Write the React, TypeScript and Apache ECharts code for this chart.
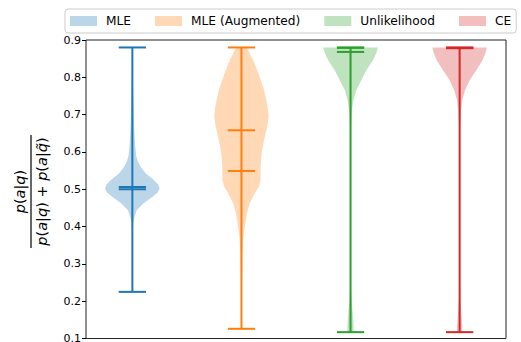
import React, { useEffect, useRef } from "react";
import * as echarts from "echarts";

const NAMES = ["MLE", "MLE (Augmented)", "Unlikelihood", "CE"];
const POSITIONS = [1, 2, 3, 4];
const LINE_COLORS = ["#1f77b4", "#ff7f0e", "#2ca02c", "#d62728"];
const FILL_COLORS = [
  "rgba(31,119,180,0.3)",
  "rgba(255,127,14,0.3)",
  "rgba(44,160,44,0.3)",
  "rgba(214,39,40,0.3)",
];
const Y_TICKS = [0.1, 0.2, 0.3, 0.4, 0.5, 0.6, 0.7, 0.8, 0.9];

// [value, relative density (max = 1)]
const PROFILE_MLE: number[][] = [
  [0.225, 0], [0.3, 0.006], [0.38, 0.012], [0.41, 0.03], [0.426, 0.08],
  [0.444, 0.16], [0.462, 0.4], [0.479, 0.73], [0.491, 0.93], [0.502, 1.0],
  [0.513, 0.95], [0.524, 0.8], [0.533, 0.65], [0.542, 0.49], [0.56, 0.3],
  [0.575, 0.2], [0.59, 0.14], [0.62, 0.1], [0.66, 0.07], [0.75, 0.035],
  [0.82, 0.015], [0.88, 0.004],
];
const PROFILE_AUG: number[][] = [
  [0.126, 0.005], [0.25, 0.015], [0.318, 0.035], [0.363, 0.06], [0.399, 0.12],
  [0.435, 0.2], [0.462, 0.3], [0.488, 0.48], [0.506, 0.63], [0.524, 0.7],
  [0.56, 0.7], [0.596, 0.74], [0.632, 0.83], [0.667, 0.94], [0.694, 1.0],
  [0.721, 0.96], [0.766, 0.83], [0.811, 0.62], [0.846, 0.43], [0.88, 0.19],
];
const PROFILE_UL: number[][] = [
  [0.117, 0.12], [0.14, 0.11], [0.17, 0.08], [0.2, 0.04], [0.24, 0.015],
  [0.3, 0.008], [0.45, 0.006], [0.6, 0.01], [0.68, 0.025], [0.712, 0.05],
  [0.739, 0.11], [0.766, 0.21], [0.793, 0.4], [0.819, 0.58], [0.846, 0.82],
  [0.866, 0.95], [0.88, 1.0],
];
const PROFILE_CE: number[][] = [
  [0.117, 0.1], [0.14, 0.09], [0.17, 0.06], [0.2, 0.03], [0.24, 0.012],
  [0.3, 0.006], [0.5, 0.005], [0.65, 0.012], [0.712, 0.05], [0.739, 0.1],
  [0.766, 0.2], [0.793, 0.37], [0.819, 0.61], [0.846, 0.84], [0.866, 0.95],
  [0.88, 1.0],
];
const PROFILES = [PROFILE_MLE, PROFILE_AUG, PROFILE_UL, PROFILE_CE];

const MINS = [0.225, 0.126, 0.117, 0.117];
const MAXS = [0.88, 0.88, 0.88, 0.88];
const MEANS = [0.506, 0.549, 0.868, 0.878];
const MEDIANS = [0.5, 0.658, 0.879, 0.879];

const HALF_WIDTH = 0.25;
const CAP_HALF = 0.125;
const FONT = "DejaVu Sans";

export default function App() {
  const ref = useRef<HTMLDivElement>(null);

  useEffect(() => {
    if (!ref.current) return;
    const chart = echarts.init(ref.current, undefined, { renderer: "svg" });

    const series = NAMES.map((name, k) => ({
      type: "custom",
      name,
      itemStyle: { color: FILL_COLORS[k] },
      data: [[POSITIONS[k], MEDIANS[k]]],
      renderItem: (params: any, api: any) => {
        const pos = POSITIONS[k];
        const prof = PROFILES[k];
        const right = prof.map(([y, w]) => api.coord([pos + w * HALF_WIDTH, y]));
        const left = prof
          .slice()
          .reverse()
          .map(([y, w]) => api.coord([pos - w * HALF_WIDTH, y]));
        const color = LINE_COLORS[k];
        const seg = (x1: number, y1: number, x2: number, y2: number) => {
          const a = api.coord([x1, y1]);
          const b = api.coord([x2, y2]);
          return {
            type: "line",
            shape: { x1: a[0], y1: a[1], x2: b[0], y2: b[1] },
            style: { stroke: color, lineWidth: 2 },
          };
        };
        return {
          type: "group",
          children: [
            {
              type: "polygon",
              shape: { points: right.concat(left) },
              style: { fill: FILL_COLORS[k], stroke: "none" },
            },
            seg(pos, MINS[k], pos, MAXS[k]),
            seg(pos - CAP_HALF, MINS[k], pos + CAP_HALF, MINS[k]),
            seg(pos - CAP_HALF, MAXS[k], pos + CAP_HALF, MAXS[k]),
            seg(pos - CAP_HALF, MEANS[k], pos + CAP_HALF, MEANS[k]),
            seg(pos - CAP_HALF, MEDIANS[k], pos + CAP_HALF, MEDIANS[k]),
          ],
        };
      },
    }));

    const numer = "{i|p}{n|(}{i|a}{n||}{i|q}{n|)}";
    const denom =
      "{i|p}{n|(}{i|a}{n||}{i|q}{n|)}{n| + }{i|p}{n|(}{i|a}{n||}{i|q\u0303}{n|)}";
    const rich = {
      i: { fontStyle: "italic", fontSize: 14.5, fontFamily: FONT, fill: "#000" },
      n: { fontStyle: "normal", fontSize: 14.5, fontFamily: FONT, fill: "#000" },
    };

    chart.setOption({
      animation: false,
      textStyle: { fontFamily: FONT },
      grid: {
        left: 86,
        top: 40,
        right: 15,
        bottom: 3.5,
        outerBoundsMode: "none",
        containLabel: false,
        show: true,
        borderColor: "#222",
        borderWidth: 1,
        backgroundColor: "transparent",
      },
      legend: {
        data: NAMES,
        left: 65,
        top: 9,
        width: 500,
        orient: "horizontal",
        icon: "rect",
        itemWidth: 27,
        itemHeight: 10,
        itemGap: 24,
        padding: [5, 5, 5, 5],
        borderColor: "#cccccc",
        borderWidth: 1,
        borderRadius: 3,
        backgroundColor: "rgba(255,255,255,0.8)",
        selectedMode: false,
        textStyle: {
          fontSize: 12.2,
          fontFamily: FONT,
          color: "#000",
          lineHeight: 14,
          padding: [0, 0, 0, 4],
        },
      },
      xAxis: {
        type: "value",
        min: 0.575,
        max: 4.425,
        axisLine: { show: false },
        axisTick: { show: false },
        axisLabel: { show: false },
        splitLine: { show: false },
      },
      yAxis: {
        type: "value",
        min: Y_TICKS[0],
        max: Y_TICKS[Y_TICKS.length - 1],
        interval: 0.1,
        axisLine: { show: false },
        axisTick: { show: true, length: 4, lineStyle: { color: "#000", width: 1 } },
        axisLabel: {
          margin: 5,
          fontSize: 11,
          fontFamily: FONT,
          color: "#000",
          showMinLabel: true,
          showMaxLabel: true,
          formatter: (v: number) => v.toFixed(1),
        },
        splitLine: { show: false },
      },
      graphic: [
        {
          type: "group",
          x: 31,
          y: 191.5,
          rotation: Math.PI / 2,
          children: [
            {
              type: "line",
              shape: { x1: -56.5, y1: 0, x2: 56.5, y2: 0 },
              style: { stroke: "#000", lineWidth: 1.2 },
            },
            {
              type: "text",
              x: 0,
              y: -11.5,
              style: {
                text: numer,
                rich,
                align: "center",
                verticalAlign: "middle",
                fontSize: 14.5,
                fontFamily: FONT,
              },
            },
            {
              type: "text",
              x: 0,
              y: 11,
              style: {
                text: denom,
                rich,
                align: "center",
                verticalAlign: "middle",
                fontSize: 14.5,
                fontFamily: FONT,
              },
            },
          ],
        },
      ],
      series,
    });

    return () => chart.dispose();
  }, []);

  return (
    <div
      ref={ref}
      style={{ position: "absolute", left: 0, top: 0, width: 521, height: 342 }}
    />
  );
}
